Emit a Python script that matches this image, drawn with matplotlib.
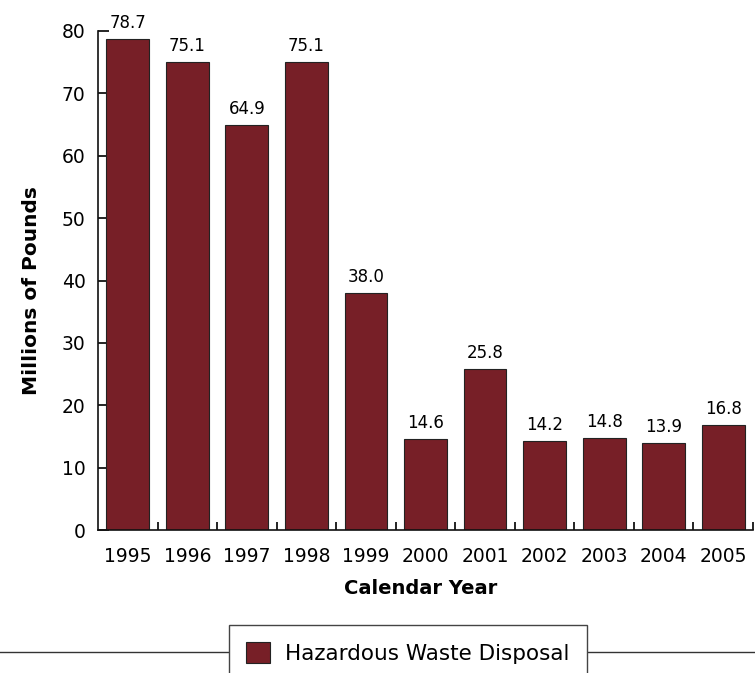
import matplotlib
matplotlib.use("Agg")
import matplotlib.pyplot as plt
from matplotlib.lines import Line2D
from matplotlib.patches import Patch

years = ["1995", "1996", "1997", "1998", "1999", "2000", "2001", "2002", "2003", "2004", "2005"]
values = [78.7, 75.1, 64.9, 75.1, 38.0, 14.6, 25.8, 14.2, 14.8, 13.9, 16.8]
series_name = "Hazardous Waste Disposal"
y_ticks = [0, 10, 20, 30, 40, 50, 60, 70, 80]

plt.rcParams['font.family'] = ['DejaVu Sans']

W, H = 755, 673
fig = plt.figure(figsize=(W / 100, H / 100), dpi=100)
ax = fig.add_axes([98 / W, 1 - 530 / H, (753 - 98) / W, (530 - 31) / H])

bar_color = "#771f27"
x = list(range(len(years)))
bars = ax.bar(x, values, width=0.72, color=bar_color, edgecolor="#222222", linewidth=0.8, zorder=2)

for xi, v in zip(x, values):
    ax.annotate(f"{v:.1f}", (xi, v), xytext=(0, 5), textcoords="offset points",
                ha="center", va="bottom", fontsize=12, annotation_clip=False)

ax.set_xlim(-0.5, len(years) - 0.5)
ax.set_ylim(0, 80)
ax.set_yticks(y_ticks)
ax.set_xticks(x)
ax.set_xticklabels(years)
ax.set_xticks([i + 0.5 for i in x], minor=True)
ax.tick_params(axis="x", which="major", length=0, labelsize=13.5, pad=12)
ax.tick_params(axis="x", which="minor", direction="in", length=6, width=1.2)
ax.tick_params(axis="y", direction="in", length=8, width=1.2, labelsize=13.5, pad=9)

for s in ["top", "right"]:
    ax.spines[s].set_visible(False)
for s in ["left", "bottom"]:
    ax.spines[s].set_linewidth(1.2)
    ax.spines[s].set_color("#111111")

ax.set_ylabel("Millions of Pounds", fontsize=14.5, fontweight="bold")
ax.yaxis.set_label_coords(-0.087, 0.479)
ax.set_xlabel("Calendar Year", fontsize=14, fontweight="bold", labelpad=10)
ax.xaxis.set_label_coords(0.493, -0.098)

# horizontal rule behind the legend
fig.add_artist(Line2D([0, 1], [1 - 652 / H, 1 - 652 / H], transform=fig.transFigure,
                      color="#333333", linewidth=1.0, zorder=0))

handle = Patch(facecolor=bar_color, edgecolor="#222222", linewidth=0.8)
leg = fig.legend([handle], [series_name], loc="upper center",
                 bbox_to_anchor=(408 / W, 1 - 625 / H), bbox_transform=fig.transFigure,
                 fontsize=15.5, frameon=True, fancybox=False, edgecolor="#444444",
                 framealpha=1, handlelength=1.1, handleheight=1.1, borderpad=0.8,
                 handletextpad=0.7, borderaxespad=0)
leg.get_frame().set_linewidth(1.0)
leg.set_zorder(5)

fig.savefig("out.png", dpi=100)
